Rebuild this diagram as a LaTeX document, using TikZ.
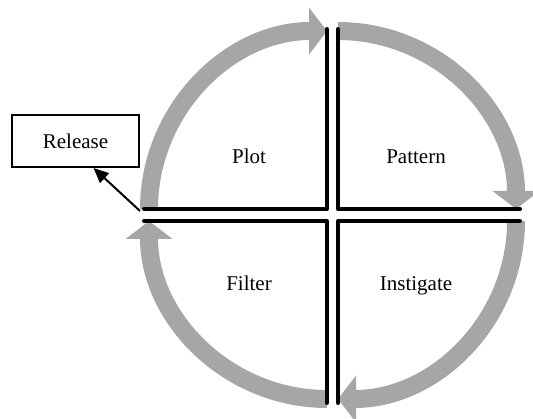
\documentclass[tikz,border=0pt]{standalone}
\usepackage{fontspec}
\setmainfont{Liberation Serif}
\usetikzlibrary{arrows.meta,calc}
\definecolor{arcgray}{RGB}{166,166,166}
\begin{document}
\begin{tikzpicture}[x=1pt,y=1pt,
  cyc/.style={draw=arcgray, line width=18pt, -{Triangle[width=46pt,length=18pt]}},
  quad/.style={draw=black, line width=4pt, line join=round, line cap=round},
  lbl/.style={font=\fontsize{21}{25}\selectfont, anchor=base, inner sep=0pt},
  relbox/.style={draw, line width=2pt, minimum width=127pt, minimum height=52pt, inner sep=0pt, font=\fontsize{21}{25}\selectfont},
  relarrow/.style={line width=2pt, -{Triangle[length=15pt,width=13pt]}}]
\useasboundingbox (0,0) rectangle (533,419);
% arc start points
\coordinate (tlS) at (149,210);
\coordinate (trS) at (338,388);
\coordinate (brS) at (516,198);
\coordinate (blS) at (327,20);
% gray cycle arrows
\draw[cyc] (tlS) arc[start angle=180, end angle=90, radius=178];
\draw[cyc] (trS) arc[start angle=90, end angle=0, radius=178];
\draw[cyc] (brS) arc[start angle=0, end angle=-90, radius=178];
\draw[cyc] (blS) arc[start angle=270, end angle=180, radius=178];
% black quadrant borders
\draw[quad] (144,210) -- (327,210) -- (327,390);
\draw[quad] (338,390) -- (338,210) -- (520,210);
\draw[quad] (144,198) -- (327,198) -- (327,16);
\draw[quad] (520,198) -- (338,198) -- (338,16);
% labels
\node[lbl] (plot) at (249,255) {Plot};
\node[lbl] (pattern) at (416,255) {Pattern};
\node[lbl] (filter) at (249,128) {Filter};
\node[lbl] (instigate) at (416,128) {Instigate};
% release
\node[relbox] (rel) at (75.5,278) {Release};
\coordinate (relstart) at (140,208);
\draw[relarrow] (relstart) -- ($(rel.south west)!0.64!(rel.south east)$);
\end{tikzpicture}
\end{document}
